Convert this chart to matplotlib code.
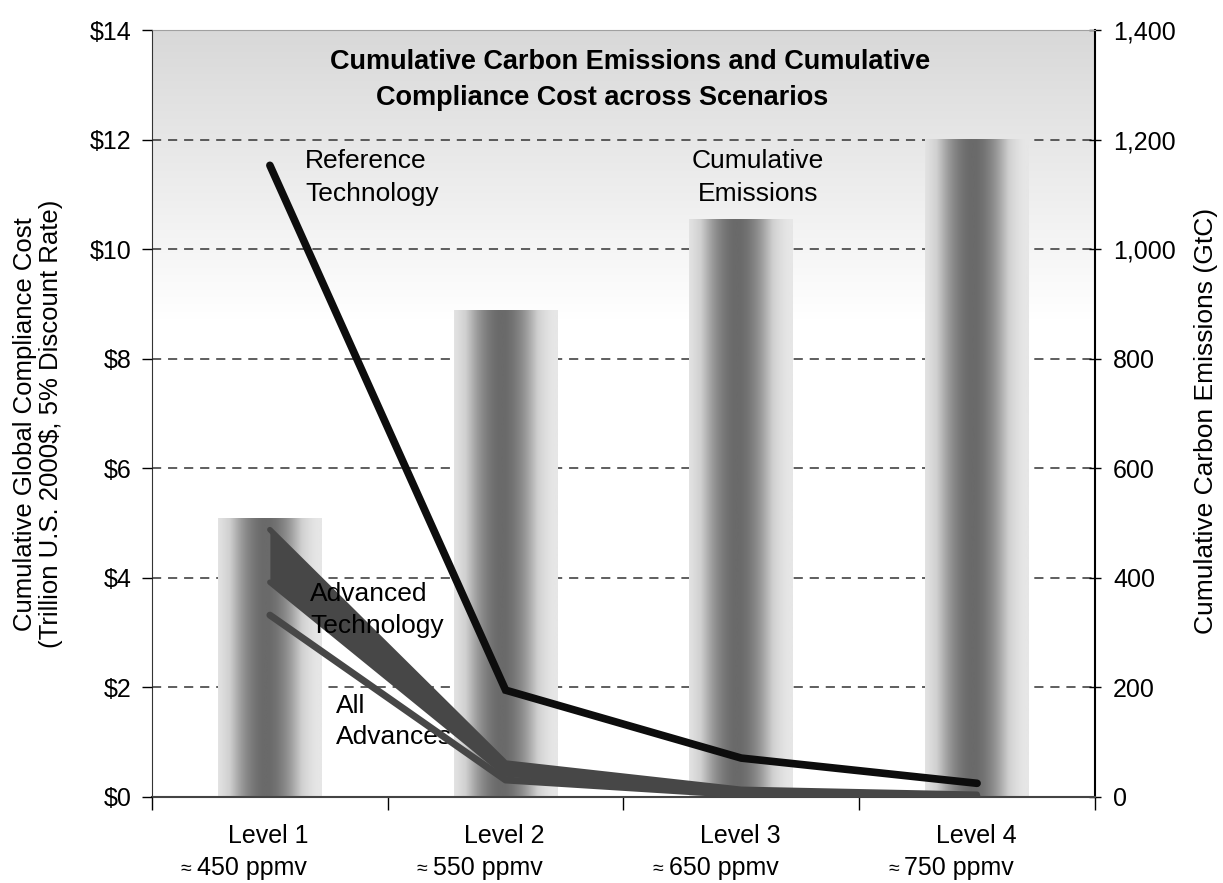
import numpy as np
import matplotlib
matplotlib.use("Agg")
import matplotlib.pyplot as plt
import matplotlib.transforms as mtransforms
from matplotlib.colors import LinearSegmentedColormap

plt.rcParams['font.family'] = ['Liberation Sans', 'DejaVu Sans']

# data
levels = ["Level 1", "Level 2", "Level 3", "Level 4"]
ppmv = ["450 ppmv", "550 ppmv", "650 ppmv", "750 ppmv"]
emissions = [509, 888, 1054, 1200]          # GtC, right axis
reference_tech = [11.53, 1.95, 0.71, 0.25]  # trillion $, left axis
advanced_hi = [4.88, 0.62, 0.14, 0.05]
advanced_lo = [3.92, 0.42, 0.06, 0.02]
all_advances = [3.32, 0.31, 0.04, 0.01]

x = np.arange(len(levels))
FS = 18

fig = plt.figure(figsize=(12.23, 8.83), dpi=100)
fig.patch.set_facecolor("white")
ax_e = fig.add_axes([0.1243, 0.0974, 0.7710, 0.8686])
ax_e.set_xlim(-0.5, 3.5)
ax_e.set_ylim(0, 1400)

# gray-to-white background at the top of the plot
bg = LinearSegmentedColormap.from_list("bg", ["white", "#d8d8d8"])
ax_e.imshow(np.linspace(0, 1, 256).reshape(-1, 1), cmap=bg, origin="lower",
            extent=(-0.5, 3.5, 870, 1400), aspect="auto", zorder=0)

# dashed grid
for g in range(200, 1400, 200):
    ax_e.axhline(g, color="#333333", lw=1.1, ls=(0, (6, 4.5)), zorder=1)

# bars with a cylinder-like shading
barcm = LinearSegmentedColormap.from_list("bar", ["#e6e6e6", "#d0d0d0", "#999999", "#6a6a6a"])
t = np.linspace(-1, 1, 200)
shade = (np.cos(np.clip(np.abs(t + 0.08), 0, 1) * np.pi / 2)) ** 1.4
bw = 0.44
for xi, h in zip(x, emissions):
    ax_e.imshow(shade.reshape(1, -1), cmap=barcm, vmin=0, vmax=1,
                extent=(xi - bw / 2, xi + bw / 2, 0, h), aspect="auto", zorder=2)

# cost lines on the left scale
ax_c = ax_e.twinx()
ax_c.set_ylim(0, 14)
ax_c.patch.set_visible(False)

ax_e.yaxis.tick_right()
ax_e.set_yticks(range(0, 1401, 200))
ax_e.set_yticklabels([f"{v:,}" for v in range(0, 1401, 200)], fontsize=FS)
ax_e.tick_params(axis="y", direction="inout", length=8, width=1, pad=9)

ax_e.set_xticks(x)
ax_e.set_xticklabels([])
ax_e.set_xticks(np.arange(-0.5, 4, 1), minor=True)
ax_e.tick_params(axis="x", which="major", length=0)
ax_e.tick_params(axis="x", which="minor", length=9, width=1)

ax_e.spines["top"].set_color("#a0a0a0")
ax_e.spines["left"].set_color("#333333")
ax_e.spines["right"].set_linewidth(1.5)
ax_e.spines["bottom"].set_linewidth(1.5)
ax_e.spines["bottom"].set_color("#444444")

ax_c.yaxis.tick_left()
ax_c.set_yticks(range(0, 15, 2))
ax_c.set_yticklabels([f"${v}" for v in range(0, 15, 2)], fontsize=FS)
ax_c.tick_params(axis="y", direction="out", length=7, width=1, pad=8)
for s in ["top", "right", "bottom", "left"]:
    ax_c.spines[s].set_visible(False)

ax_c.fill_between(x, advanced_lo, advanced_hi, color="#474747", lw=0, zorder=3)
ax_c.plot(x, advanced_hi, color="#474747", lw=4, solid_capstyle="round", zorder=3)
ax_c.plot(x, advanced_lo, color="#474747", lw=4, solid_capstyle="round", zorder=3)
ax_c.plot(x, all_advances, color="#474747", lw=5, solid_capstyle="round", zorder=4)
ax_c.plot(x, reference_tech, color="#0d0d0d", lw=5.5, solid_capstyle="round",
          solid_joinstyle="miter", zorder=5)

# x category labels
trans = mtransforms.blended_transform_factory(ax_e.transData, ax_e.transAxes)
for xi, lv, pp in zip(x, levels, ppmv):
    ax_e.text(xi - 0.005, -0.051, lv, transform=trans, ha="center", va="center", fontsize=FS)
    t2 = ax_e.text(xi + 0.157, -0.093, pp, transform=trans, ha="right", va="center", fontsize=FS)
    ax_e.annotate("≈", xy=(0, 0.45), xycoords=t2, xytext=(-4, 0), textcoords="offset points",
                  ha="right", va="center", fontsize=14)

# axis titles
fig.text(38 / 1223, 1 - 424 / 883,
         "Cumulative Global Compliance Cost\n(Trillion U.S. 2000$, 5% Discount Rate)",
         rotation=90, ha="center", va="center", fontsize=FS + 0.5, linespacing=1.15)
fig.text(1206 / 1223, 1 - 421 / 883, "Cumulative Carbon Emissions (GtC)",
         rotation=90, ha="center", va="center", fontsize=FS + 1)

# chart title
fig.text(630 / 1223, 1 - 62 / 883, "Cumulative Carbon Emissions and Cumulative",
         ha="center", va="center", fontsize=19.5, fontweight="bold")
fig.text(602 / 1223, 1 - 98 / 883, "Compliance Cost across Scenarios",
         ha="center", va="center", fontsize=19.5, fontweight="bold")

# series annotations
ax_c.text(0.149, 11.31, "Reference\nTechnology", ha="left", va="center", fontsize=19, linespacing=1.45)
ax_c.text(2.07, 11.31, "Cumulative\nEmissions", ha="center", va="center", fontsize=19, linespacing=1.45)
ax_c.text(0.17, 3.41, "Advanced\nTechnology", ha="left", va="center", fontsize=19, linespacing=1.4)
ax_c.text(0.28, 1.38, "All\nAdvances", ha="left", va="center", fontsize=19, linespacing=1.4)

fig.savefig("out.png", dpi=100)
